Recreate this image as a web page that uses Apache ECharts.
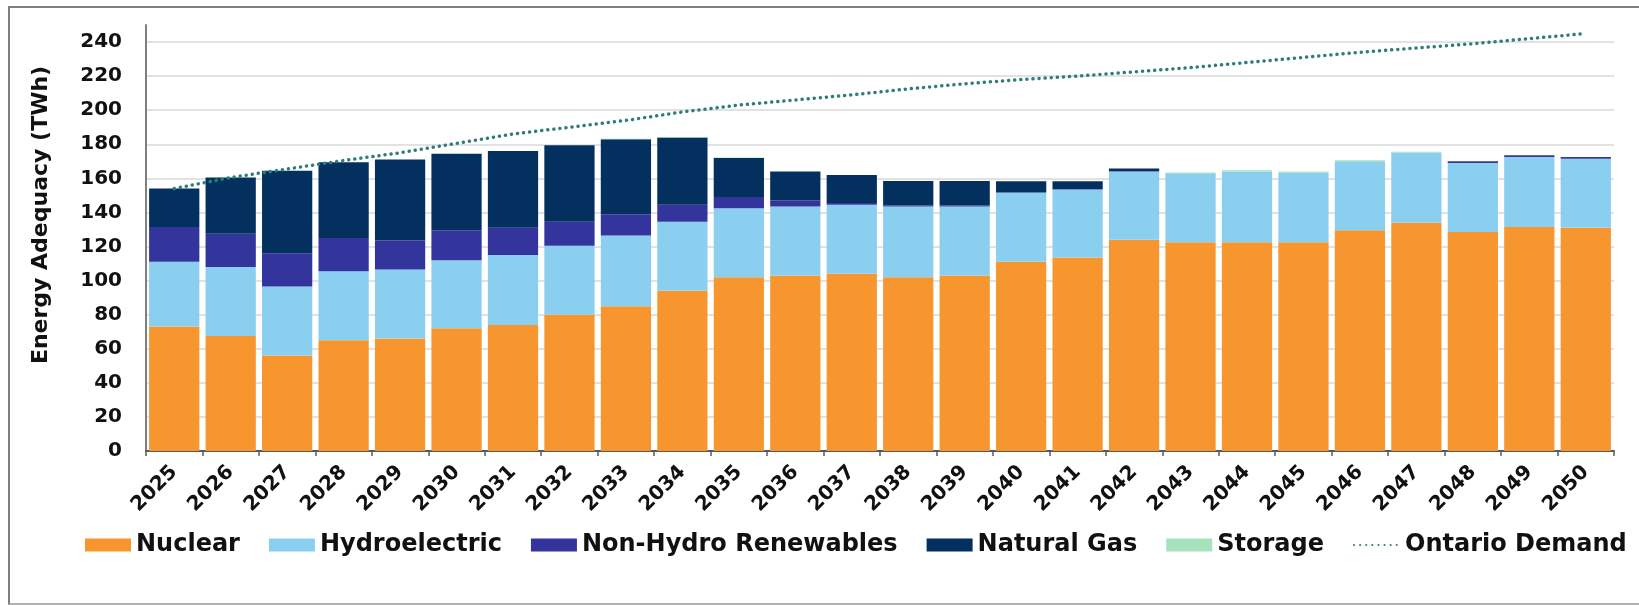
<!DOCTYPE html>
<html>
<head>
<meta charset="utf-8">
<script src="https://cdn.jsdelivr.net/npm/echarts@6/dist/echarts.min.js"></script>
<style>
  html, body { margin: 0; padding: 0; background: #fff; }
  #chart { width: 1639px; height: 605px; }
  #frame {
    position: absolute; left: 8px; top: 6px; width: 1650px; height: 595px;
    border-left: 2px solid #7f7f7f; border-top: 2px solid #7f7f7f; border-bottom: 2px solid #b0b0b0;
    pointer-events: none;
  }
</style>
</head>
<body>
<div id="chart"></div>
<div id="frame"></div>
<script>
// categories
var years = ['2025', '2026', '2027', '2028', '2029', '2030', '2031', '2032', '2033', '2034',
  '2035', '2036', '2037', '2038', '2039', '2040', '2041', '2042', '2043', '2044',
  '2045', '2046', '2047', '2048', '2049', '2050'];

// TWh
var nuclear = [73, 67.5, 56, 65, 66, 72, 74, 80, 85, 94, 102, 103, 104, 102, 103, 111, 113.5,
  124, 122.5, 122.5, 122.5, 129.5, 134, 128.5, 131.5, 131];
var hydro = [38, 40.5, 40.5, 40.5, 40.5, 40, 41, 40.5, 41.5, 40.5, 40.5, 40.5, 40.5, 41.5, 40.5,
  40.5, 40, 40, 40.5, 41.5, 41, 40.5, 41, 40.5, 41, 40.5];
var nonHydro = [20.5, 19.5, 19.5, 19.5, 17, 17.5, 16, 14, 12.5, 10, 6.5, 3.5, 1, 0.5, 0.5, 0.3,
  0.3, 0.3, 0, 0, 0, 0, 0, 1, 1, 1];
var gas = [22.5, 33, 48.5, 44.5, 47.5, 45, 45, 45, 44, 39.5, 23, 17, 16.5, 14.5, 14.5, 6.5, 4.5,
  1.5, 0, 0, 0, 0, 0, 0, 0, 0];
var storage = [0, 0, 0, 0, 0, 0, 0, 0, 0.3, 0.3, 0.3, 0, 0, 0, 0, 0, 0, 0, 0.5, 0.7, 0.5, 0.6,
  0.6, 0, 0, 0];
var demand = [154, 160.5, 165.5, 170.5, 175, 180.5, 186, 190, 194, 199, 203, 206, 209, 212.5,
  215.5, 218, 220, 222.5, 225, 228, 231, 234, 236.5, 239, 242, 245];

var yTicks = { min: 0, max: 250, step: 20 };

var FONT = 'DejaVu Sans';
var DEMAND_COLOR = '#2f7d78';
var chart = echarts.init(document.getElementById('chart'));

function barSeries(name, data, color) {
  return {
    name: name,
    type: 'bar',
    stack: 'supply',
    data: data,
    barCategoryGap: '11%',
    itemStyle: { color: color },
    emphasis: { disabled: true }
  };
}

var option = {
  backgroundColor: '#fff',
  animation: false,
  grid: { left: 146, right: 25, top: 25, bottom: 154 },
  legend: {
    left: 80,
    top: 528,
    itemWidth: 46,
    itemHeight: 13,
    itemGap: 29,
    textStyle: { fontFamily: FONT, fontWeight: 'bold', fontSize: 24, color: '#111' },
    data: [
      { name: 'Nuclear', icon: 'rect' },
      { name: 'Hydroelectric', icon: 'rect' },
      { name: 'Non-Hydro Renewables', icon: 'rect' },
      { name: 'Natural Gas', icon: 'rect' },
      { name: 'Storage', icon: 'rect' },
      { name: 'Ontario Demand', itemStyle: { opacity: 0 } }
    ]
  },
  graphic: [{
    type: 'text',
    x: 41,
    y: 215,
    rotation: Math.PI / 2,
    style: {
      text: 'Energy Adequacy (TWh)',
      fontFamily: FONT,
      fontWeight: 'bold',
      fontSize: 22,
      fill: '#111',
      textAlign: 'center',
      textVerticalAlign: 'middle'
    }
  }],
  xAxis: {
    type: 'category',
    data: years,
    axisLine: { lineStyle: { color: '#595959', width: 2 } },
    axisTick: { show: true, length: 5, lineStyle: { color: '#595959', width: 1.5 } },
    axisLabel: {
      rotate: 45,
      margin: 18,
      fontFamily: FONT,
      fontWeight: 'bold',
      fontSize: 20,
      color: '#111'
    }
  },
  yAxis: {
    type: 'value',
    min: yTicks.min,
    max: yTicks.max,
    interval: yTicks.step,
    axisLine: { show: true, lineStyle: { color: '#808080', width: 2 } },
    axisTick: { show: false },
    splitLine: { show: true, showMaxLine: false, lineStyle: { color: '#d9d9d9', width: 1.5 } },
    axisLabel: {
      margin: 24,
      fontFamily: FONT,
      fontWeight: 'bold',
      fontSize: 20,
      color: '#111',
      formatter: function (v) { return v > 240 ? '' : v; }
    }
  },
  series: [
    barSeries('Nuclear', nuclear, '#f7962f'),
    barSeries('Hydroelectric', hydro, '#8bcff0'),
    barSeries('Non-Hydro Renewables', nonHydro, '#33349c'),
    barSeries('Natural Gas', gas, '#04305f'),
    barSeries('Storage', storage, '#a6e3bd'),
    {
      name: 'Ontario Demand',
      type: 'line',
      data: demand,
      symbol: 'none',
      z: 5,
      lineStyle: { color: DEMAND_COLOR, width: 3.5, type: [0.1, 6], cap: 'round' },
      itemStyle: { color: DEMAND_COLOR },
      emphasis: { disabled: true }
    }
  ]
};

chart.setOption(option);
</script>
</body>
</html>
